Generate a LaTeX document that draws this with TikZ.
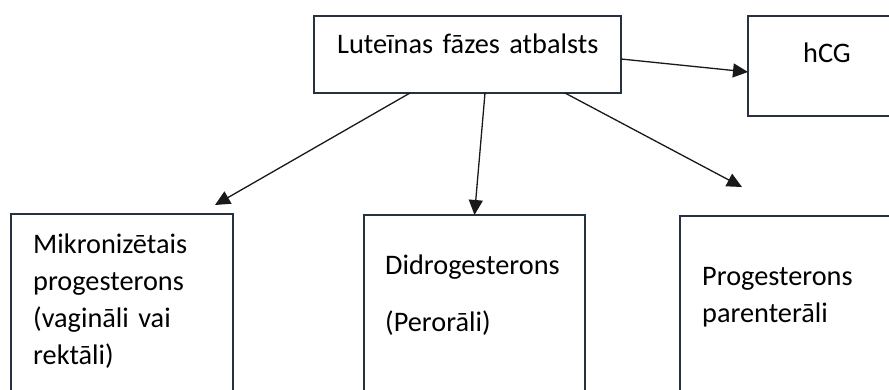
\documentclass[tikz,border=0pt]{standalone}
\usepackage{fontspec}
\setmainfont{Carlito}
\usepackage{tikz}
\usetikzlibrary{arrows.meta}
\tikzset{>/.tip={Triangle[length=15pt,width=14pt]}}
\definecolor{boxline}{RGB}{38,50,66}
\tikzset{box/.style={draw=boxline, line width=2pt, rectangle, inner sep=0pt, outer sep=0pt},
  txt/.style={anchor=base west, inner sep=0pt, align=left, text width=10cm, text=black,
    font=\fontsize{28.3}{37}\selectfont},
  arr/.style={->, line width=1.3pt, draw=black!90}}

\begin{document}
\begin{tikzpicture}[x=1pt,y=-1pt]
\useasboundingbox (0,0) rectangle (889,390);
\clip (0,0) rectangle (889,390);
\node[box, minimum width=307pt, minimum height=77pt] (lut) at (467.5,54.5) {};
\node[box, minimum width=147pt, minimum height=100pt] (hcg) at (821.5,66) {};
\node[box, minimum width=222pt, minimum height=186pt] (mik) at (122,307) {};
\node[box, minimum width=221pt, minimum height=185pt] (did) at (474.5,307.5) {};
\node[box, minimum width=215pt, minimum height=184pt] (pro) at (787.5,308) {};

\node[txt] (lut-t) at (337,54) {Luteīnas fāzes atbalsts};
\node[txt] (hcg-t) at (803,63) {hCG};
\node[txt] (mik-t) at (33,254) {Mikronizētais\\progesterons\\(vagināli vai\\rektāli)};
\node[txt] (did-t) at (385,275) {Didrogesterons\\[20pt](Perorāli)};
\node[txt] (pro-t) at (702,285) {Progesterons\\parenterāli};

\coordinate (mik-in) at (215,205);
\coordinate (pro-in) at (742,187);

\draw[arr] ([yshift=-4.5pt]lut.east) -- ([yshift=-6pt]hcg.west);
\draw[arr] ([xshift=-57.5pt]lut.south) -- (mik-in);
\draw[arr] ([xshift=17.5pt]lut.south) -- (did.north);
\draw[arr] ([xshift=97.5pt]lut.south) -- (pro-in);
\end{tikzpicture}
\end{document}
